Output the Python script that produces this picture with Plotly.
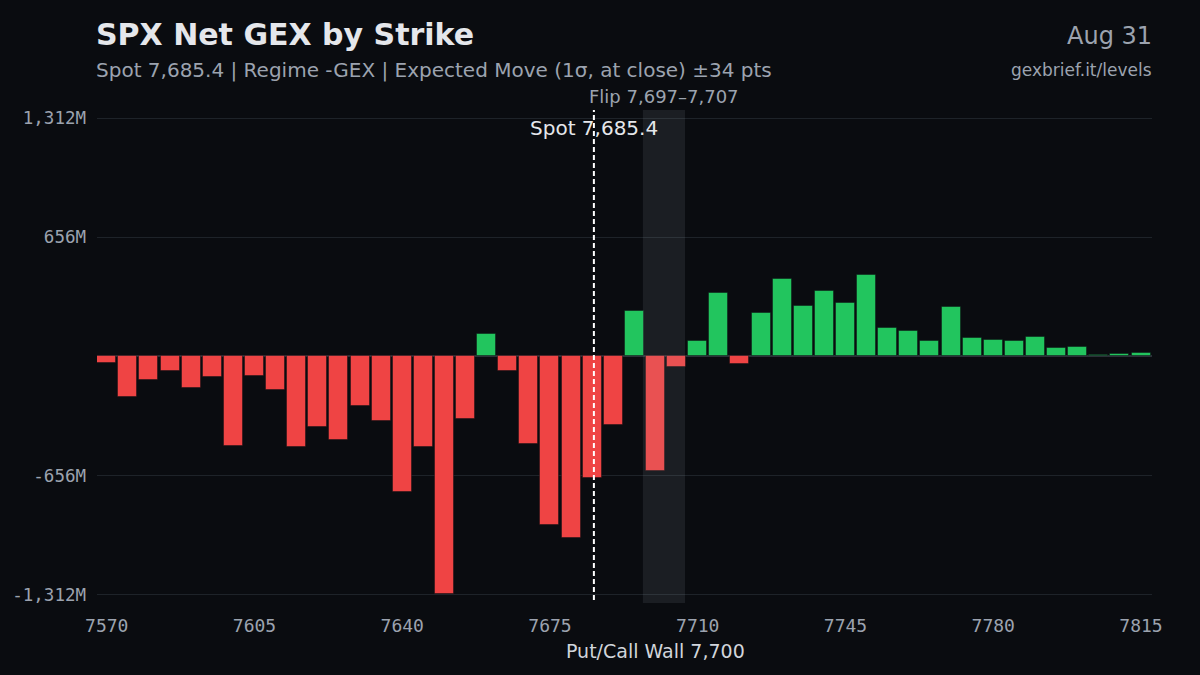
import plotly.graph_objects as go

# ---- data ----
strikes = [7570, 7575, 7580, 7585, 7590, 7595, 7600, 7605, 7610, 7615,
           7620, 7625, 7630, 7635, 7640, 7645, 7650, 7655, 7660, 7665,
           7670, 7675, 7680, 7685, 7690, 7695, 7700, 7705, 7710, 7715,
           7720, 7725, 7730, 7735, 7740, 7745, 7750, 7755, 7760, 7765,
           7770, 7775, 7780, 7785, 7790, 7795, 7800, 7805, 7810, 7815]
net_gex_m = [-37, -222, -132, -81, -175, -116, -494, -110, -187, -502,
             -391, -463, -272, -357, -746, -502, -1312, -345, 125, -83,
             -485, -930, -1002, -669, -377, 247, -634, -59, 87, 347,
             -45, 236, 425, 275, 361, 294, 448, 156, 138, 83,
             274, 101, 92, 86, 106, 48, 53, 5, 15, 20]
x_ticks = [7570, 7605, 7640, 7675, 7710, 7745, 7780, 7815]
y_ticks = [-1312, -656, 0, 656, 1312]
y_tick_text = ["-1,312M", "-656M", "", "656M", "1,312M"]
spot = 7685.4
flip_lo, flip_hi = 7697, 7707
wall = 7700

GREEN = "#22c55e"
RED = "#ef4444"
BG = "#0a0c10"
MUTED = "#9ca3af"

colors = [GREEN if v > 0 else RED for v in net_gex_m]

fig = go.Figure()
fig.add_trace(go.Bar(
    x=strikes, y=net_gex_m, width=4.5,
    marker=dict(color=colors, line=dict(color="rgba(10,12,16,0.45)", width=1)),
    hoverinfo="x+y", showlegend=False,
))

# flip zone shading (above bars)
fig.add_shape(type="rect", xref="x", yref="paper", x0=flip_lo, x1=flip_hi, y0=0, y1=1,
              fillcolor="rgba(190,195,205,0.10)", line=dict(width=0), layer="above")
# spot line
fig.add_shape(type="line", xref="x", yref="paper", x0=spot, x1=spot, y0=0.006, y1=1,
              line=dict(color="#ffffff", width=2, dash="5px,3px"), layer="above")

fig.add_annotation(x=spot, xref="x", y=0.963, yref="paper", text="Spot 7,685.4",
                   showarrow=False, xanchor="center", yanchor="middle",
                   font=dict(family="DejaVu Sans", size=20, color="#e5e7eb"))
fig.add_annotation(x=(flip_lo + flip_hi) / 2, xref="x", y=1.028, yref="paper",
                   text="Flip 7,697–7,707", showarrow=False, xanchor="center", yanchor="middle",
                   font=dict(family="DejaVu Sans", size=18, color=MUTED))
fig.add_annotation(x=wall, xref="x", y=-0.097, yref="paper", text="Put/Call Wall 7,700",
                   showarrow=False, xanchor="center", yanchor="middle",
                   font=dict(family="DejaVu Sans", size=19, color="#d1d5db"))

# header texts
fig.add_annotation(x=-0.003, xref="paper", y=1.154, yref="paper", text="<b>SPX Net GEX by Strike</b>",
                   showarrow=False, xanchor="left", yanchor="middle",
                   font=dict(family="DejaVu Sans", size=30, color="#e5e7eb"))
fig.add_annotation(x=-0.003, xref="paper", y=1.081, yref="paper",
                   text="Spot 7,685.4 | Regime -GEX | Expected Move (1σ, at close) ±34 pts",
                   showarrow=False, xanchor="left", yanchor="middle",
                   font=dict(family="DejaVu Sans", size=20, color=MUTED))
fig.add_annotation(x=1.002, xref="paper", y=1.150, yref="paper", text="Aug 31",
                   showarrow=False, xanchor="right", yanchor="middle",
                   font=dict(family="DejaVu Sans", size=24, color=MUTED))
fig.add_annotation(x=1.002, xref="paper", y=1.081, yref="paper", text="gexbrief.it/levels",
                   showarrow=False, xanchor="right", yanchor="middle",
                   font=dict(family="DejaVu Sans", size=17, color=MUTED))

fig.update_layout(
    width=1200, height=675,
    paper_bgcolor=BG, plot_bgcolor=BG,
    margin=dict(l=97, r=48, t=110, b=72),
    bargap=0,
    xaxis=dict(
        range=[7567.7, 7817.6], tickvals=x_ticks, ticktext=[str(t) for t in x_ticks],
        showgrid=False, zeroline=False, showline=False, ticks="", ticklabelstandoff=10,
        tickfont=dict(family="DejaVu Sans Mono", size=18, color=MUTED),
    ),
    yaxis=dict(
        range=[-1359, 1357], tickvals=y_ticks, ticktext=y_tick_text,
        showgrid=True, gridcolor="#1e2329", gridwidth=1,
        zeroline=True, zerolinecolor="#2c3139", zerolinewidth=2,
        showline=False, ticks="", ticklabelstandoff=10,
        tickfont=dict(family="DejaVu Sans Mono", size=17.5, color=MUTED),
    ),
)

fig.write_html("out.html", config={"displayModeBar": False},
               post_script="document.body.style.margin='0';document.body.style.background='#0a0c10';")
